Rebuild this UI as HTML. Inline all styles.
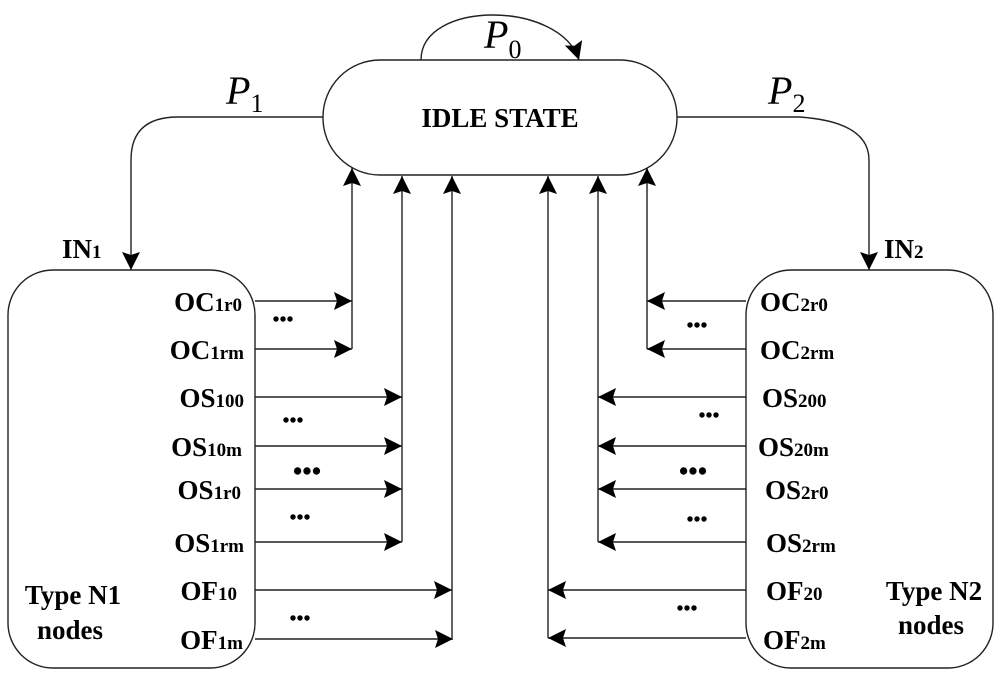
<!DOCTYPE html>
<html><head><meta charset="utf-8"><style>
html,body{margin:0;padding:0;background:#fff;}
svg{display:block;}
text{font-family:"Liberation Serif",serif;fill:#000;}
.b{font-weight:bold;font-size:27px;}
.s{font-size:19px;}
.d{font-weight:bold;font-size:20px;}
.p{font-style:italic;font-size:40px;}
.ps{font-size:26px;font-style:normal;}
</style></head><body>
<svg width="1000" height="680" viewBox="0 0 1000 680" xmlns="http://www.w3.org/2000/svg">
<defs>
<marker id="a" viewBox="0 0 18 18" refX="18" refY="9" markerWidth="18" markerHeight="18" markerUnits="userSpaceOnUse" orient="auto">
<path d="M0,0 L18,9 L0,18 L3,9 Z" fill="#000"/>
</marker>
</defs>
<g fill="none" stroke="#222" stroke-width="1.4">
<rect x="323" y="60" width="354" height="115" rx="57" ry="57"/>
<rect x="8" y="270" width="247" height="398" rx="45" ry="45"/>
<rect x="746" y="270" width="247" height="398" rx="45" ry="45"/>
<path d="M421,60 C421,0 560,0 579,60" marker-end="url(#a)"/>
<path d="M323,117 L178,117 Q131,117 131,160 L131,270" marker-end="url(#a)"/>
<path d="M677,117 L800,117 Q869,122 869,160 L869,270" marker-end="url(#a)"/>
<path d="M352,349 L352,168" marker-end="url(#a)"/>
<path d="M402,542 L402,176" marker-end="url(#a)"/>
<path d="M452,638 L452,176" marker-end="url(#a)"/>
<path d="M548,638 L548,176" marker-end="url(#a)"/>
<path d="M598,542 L598,176" marker-end="url(#a)"/>
<path d="M647,349 L647,168" marker-end="url(#a)"/>
<path d="M255,301 H352" marker-end="url(#a)"/>
<path d="M255,349 H352" marker-end="url(#a)"/>
<path d="M255,397 H402" marker-end="url(#a)"/>
<path d="M255,446 H402" marker-end="url(#a)"/>
<path d="M255,489 H402" marker-end="url(#a)"/>
<path d="M255,542 H402" marker-end="url(#a)"/>
<path d="M255,590 H452" marker-end="url(#a)"/>
<path d="M255,639 H453" marker-end="url(#a)"/>
<path d="M746,301 H647" marker-end="url(#a)"/>
<path d="M746,349 H647" marker-end="url(#a)"/>
<path d="M746,397 H598" marker-end="url(#a)"/>
<path d="M746,446 H598" marker-end="url(#a)"/>
<path d="M746,489 H598" marker-end="url(#a)"/>
<path d="M746,542 H598" marker-end="url(#a)"/>
<path d="M746,590 H548" marker-end="url(#a)"/>
<path d="M746,638 H548" marker-end="url(#a)"/>
</g>
<text class="b" x="500" y="127" text-anchor="middle">IDLE STATE</text>
<text class="p" x="484" y="48">P<tspan class="ps" dy="10">0</tspan></text>
<text class="p" x="226" y="104">P<tspan class="ps" dy="8">1</tspan></text>
<text class="p" x="768" y="104">P<tspan class="ps" dy="8">2</tspan></text>
<text class="b" x="62" y="258">IN<tspan class="s">1</tspan></text>
<text class="b" x="884" y="258">IN<tspan class="s">2</tspan></text>
<g text-anchor="end">
<text class="b" x="242" y="311">OC<tspan class="s">1r0</tspan></text>
<text class="b" x="244" y="359">OC<tspan class="s">1rm</tspan></text>
<text class="b" x="244" y="407">OS<tspan class="s">100</tspan></text>
<text class="b" x="242" y="456">OS<tspan class="s">10m</tspan></text>
<text class="b" x="241" y="499">OS<tspan class="s">1r0</tspan></text>
<text class="b" x="244" y="552">OS<tspan class="s">1rm</tspan></text>
<text class="b" x="237" y="600">OF<tspan class="s">10</tspan></text>
<text class="b" x="243" y="649">OF<tspan class="s">1m</tspan></text>
</g>
<text class="b" x="760" y="311">OC<tspan class="s">2r0</tspan></text>
<text class="b" x="760" y="359">OC<tspan class="s">2rm</tspan></text>
<text class="b" x="762" y="407">OS<tspan class="s">200</tspan></text>
<text class="b" x="758" y="456">OS<tspan class="s">20m</tspan></text>
<text class="b" x="765" y="499">OS<tspan class="s">2r0</tspan></text>
<text class="b" x="766" y="552">OS<tspan class="s">2rm</tspan></text>
<text class="b" x="766" y="600">OF<tspan class="s">20</tspan></text>
<text class="b" x="763" y="649">OF<tspan class="s">2m</tspan></text>
<text class="b" x="73" y="604" text-anchor="middle">Type N1</text>
<text class="b" x="70" y="639" text-anchor="middle">nodes</text>
<text class="b" x="934" y="600" text-anchor="middle">Type N2</text>
<text class="b" x="931" y="634" text-anchor="middle">nodes</text>
<g text-anchor="middle">
<text class="d" x="283" y="326">•••</text>
<text class="d" x="293" y="427">•••</text>
<text class="d" x="307" y="480" style="font-size:27px">•••</text>
<text class="d" x="300" y="524">•••</text>
<text class="d" x="300" y="625">•••</text>
<text class="d" x="697" y="332">•••</text>
<text class="d" x="709" y="422">•••</text>
<text class="d" x="693" y="480" style="font-size:27px">•••</text>
<text class="d" x="697" y="526">•••</text>
<text class="d" x="687" y="615">•••</text>
</g>
</svg>
</body></html>
